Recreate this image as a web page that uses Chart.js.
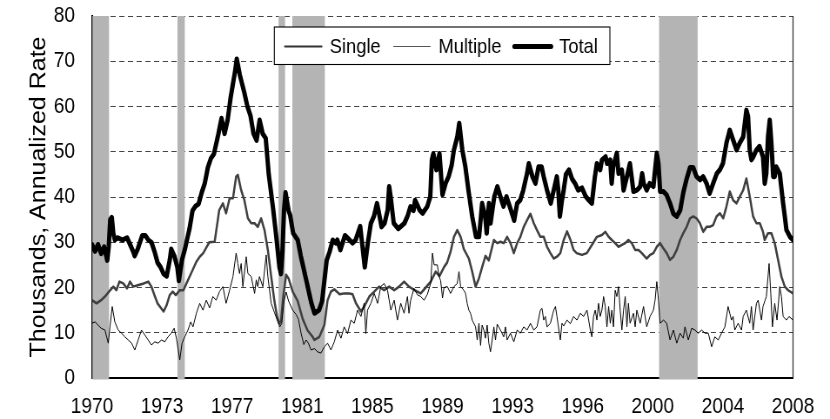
<!DOCTYPE html>
<html><head><meta charset="utf-8">
<script src="https://cdn.jsdelivr.net/npm/chart.js@4.4.1/dist/chart.umd.min.js"></script>
<style>
html,body{margin:0;padding:0;background:#fff;overflow:hidden;}
#wrap{width:954px;height:419px;transform:scaleX(0.87);transform-origin:0 0;}
canvas{display:block;}
</style></head>
<body><div id="wrap"><canvas id="c" width="954" height="419"></canvas></div>
<script>
// Month index 0 = Jan 1970, one label every 46 months
const xTickLabels = ['1970','1973','1977','1981','1985','1989','1993','1996','2000','2004','2008'];
const monthsPerLabel = 46;
const seriesNames = ['Single','Multiple','Total'];
const yTitle = 'Thousands, Annualized Rate';
// shaded periods (month index)
const recessionStart = [0.3, 56.1, 122.4, 131.5, 372.1];
const recessionEnd   = [11.2, 60.9, 126.7, 152.8, 397.4];

const total = [[0,29.5],[2,28],[4,29.5],[6,27.5],[8,29],[10,26],[11,29],[12,35],[13,35.5],[14,32],[15,30.5],[17,31],[20,30.5],[23,31],[25,29.5],[27,28],[28,27],[30,28.5],[33,31.5],[35,31.5],[37,30.5],[39,30],[41,28],[43,25.5],[45,24.5],[47,23],[49,22.5],[51,26],[52,28.5],[54,27],[56,24.5],[57,21.5],[59,26],[61,28.5],[62,30],[64,33],[66,37],[68,38],[70,38.5],[72,41],[74,43],[76,46.5],[78,48.5],[80,49.5],[83,54],[85,57.4],[87,54],[89,57],[91,62],[94,68],[95,70.5],[97,67],[100,63],[102,60],[104,58],[106,54],[108,52.5],[110,57],[112,54],[114,53],[116,45],[119,37],[121,31],[123,24.5],[124,23],[125,28],[126,37],[127,41],[129,37],[130,36],[132,32],[135,30.5],[137,27],[140,22.5],[144,16.5],[146,14.3],[149,15],[151,17],[152,20],[154,26],[156,28],[158,30.5],[160,29.8],[161,30.5],[163,28.3],[166,31.5],[169,30.5],[171,29.8],[173,30.5],[176,33.5],[177.5,29],[179,24.5],[181,29.8],[183,34.2],[185,35.7],[187,38.6],[188,37],[190,33.4],[192,34.2],[194,37.1],[195,42.3],[196,40],[198,34.2],[201,33],[205,34.2],[207,35.7],[209,37.9],[211,37],[212,39.3],[215,37.1],[217,36.4],[220,37.9],[222,40.1],[223,48.2],[224,49.6],[226,46],[228,49.6],[230,40.5],[232,43],[234,44.5],[236,47],[237.5,50.4],[239.7,53.3],[241,56.3],[243,50.4],[245,46.7],[247,41.5],[249.5,35.7],[252,31.2],[254,31.2],[256,38.6],[258,35.7],[259,32],[260.5,38.6],[261.5,34.2],[264,40.1],[266,42.3],[268,40.1],[270,37.9],[272,40.1],[275,37],[277,34.8],[279,38.6],[281,39.3],[283,41.5],[285.5,45.2],[286.6,47.4],[289,44.5],[291,43],[293,46.7],[295,46.7],[296.4,44.5],[298.6,41.5],[301,38.6],[303,41.5],[305,44.5],[306,41.5],[307,35.7],[308.4,39.3],[309.5,41.5],[311,45],[313,46],[315,44],[317,43],[319,41.5],[321.5,42],[324,40.1],[326,39.3],[328,38.6],[330,44.5],[331.3,47.4],[333.5,46],[334.6,48.2],[337,48.9],[338,47.4],[340,48.2],[341,43],[342,46.7],[344.4,49.7],[345.5,45.2],[347.7,46],[348.8,41.5],[351,44.5],[353,47.4],[355.3,41.2],[357.5,41.5],[359.7,42.3],[361,45.2],[362,43],[364,41.5],[366,43],[368.4,42.3],[370.6,49.7],[371.7,47.4],[372.8,41.2],[375,41.2],[377,40.5],[379.3,38.6],[381.5,36.3],[383.7,35.7],[386,37.1],[388,41],[390.2,44],[392.4,46.5],[394.5,46.5],[396.7,44.5],[399,43.8],[401,44.5],[403.3,43],[405.3,40.8],[407.6,43],[410,45.2],[412,46],[414,47.4],[416.3,51.9],[418.5,54.8],[420.7,52.6],[423,50.4],[425,51.9],[427.3,53.3],[429.4,59.2],[430.5,57.8],[431.6,50.4],[432.7,48.2],[434,48.9],[436,50.4],[438,51.2],[440.3,48.9],[441.4,43],[442.5,45.2],[443.6,53.3],[444.7,57],[445.8,52],[447,44.5],[448,44.5],[449,46.7],[451.3,45.2],[453.5,38.6],[454.6,35.7],[455.7,32.7],[458,31.2],[460,30.5]];

const single = [[0,17.2],[3,16.5],[6,17.2],[8.5,18],[12,19.4],[14,20.2],[16,19.4],[18,21.3],[20.5,20.9],[23,19.8],[25,21.3],[27,20.2],[30,20.5],[34,20.9],[37,21.3],[39,20.2],[41,18.3],[43,16.5],[47,14.7],[49,16.1],[51,18.3],[53,19.1],[55,18.3],[57.6,19.4],[60,19.4],[62,20.9],[65,23.1],[68.5,25.7],[70.7,26.8],[73,27.6],[75,28.8],[77,30],[80.5,30.1],[83.5,37.1],[85.9,38.6],[88,36.4],[90.3,39.7],[92.5,39.7],[94.6,44.5],[95.7,44.9],[97.9,41.5],[100,39.3],[102.3,35.3],[104.5,34.2],[106.7,34.2],[108.8,33.4],[111,35.3],[113.2,32.7],[115.4,28.3],[117.6,22.4],[119.7,17],[121.5,13.5],[123,12],[124,12.5],[125.5,18],[127.4,22.8],[129,22],[131.7,19.1],[135,17],[138.3,13],[141.5,10.5],[144.8,9.1],[146,8.4],[149.2,9.1],[152.5,11.7],[154.6,17.2],[156.8,19.1],[159,19.6],[162.5,18.5],[165.5,18.7],[168.8,18.7],[171,18.5],[173.2,16.5],[176.5,14.7],[178.6,15.8],[182,18],[185.2,19.1],[188.4,20.2],[191.7,19.4],[195,20.2],[198.3,19.4],[201.5,20.2],[204.8,21.3],[208,20.2],[211.3,19.5],[215.7,18.7],[219,20],[222.3,21.3],[225.5,23.5],[228,22.5],[231,24.5],[233,25.5],[235.3,27.9],[237.5,31.2],[239.7,32.7],[241.9,31.2],[244,28.5],[247.3,26.4],[249.5,23.5],[251.7,20.2],[253.9,22],[256,24.5],[258.2,27],[260.4,26],[261.5,27.5],[263.7,30.5],[265.9,29.8],[268,30.1],[270.2,29.8],[272.4,31.2],[274.6,29.8],[276.8,27.6],[279,29.8],[281.1,31.2],[283.3,33.4],[285.5,34.9],[287.7,36.3],[289.9,34.2],[292,32.7],[294.2,31.2],[296.4,31.2],[298.6,29],[300.8,27.6],[303,26.4],[305.1,26.8],[307.3,27.6],[309.5,30.5],[311.7,32.4],[314,30.5],[316,28.3],[318,27.6],[321.5,27.2],[324.7,27.6],[328,29.4],[331.3,31.2],[334.6,31.6],[336.8,32.3],[339,31.2],[341.1,30.5],[343.3,29.8],[345.5,29],[347.7,29.4],[349.9,29.8],[352,30.5],[354.2,29.8],[356.4,28.3],[358.6,28.3],[360.8,27.6],[364,26.4],[366.2,27.2],[368.4,27.6],[370.6,29],[372.8,29.8],[375,28.6],[377.1,27.6],[379.3,26.1],[381.5,26.8],[383.7,28.3],[385.9,30.5],[388,32],[390.2,33.4],[392.4,35.3],[394.5,35.7],[396.7,35.3],[398.9,34.2],[401.1,32.3],[403.3,33.4],[405.3,33.4],[407.6,33.8],[409.8,35.7],[412,36.4],[414.2,35.3],[416.3,37.9],[418.5,41.2],[420.7,39.3],[422.9,38.6],[425.1,40.1],[427.3,41.5],[429.4,44.1],[431.6,40.1],[433.8,35.7],[436,34.2],[438.2,34.2],[440.3,32.3],[441.4,30.5],[443.6,32],[445.8,32],[448,29.8],[450.2,26.1],[452.4,22.4],[454.6,20.2],[456.8,19.4],[460,18.7]];

const multiple = [[0,12.1],[2,12.4],[4,11.7],[6,11],[8.5,10.6],[10.7,7.7],[11.8,11.3],[13.3,15.8],[15,12.4],[17.2,10.6],[19.4,9.9],[21.6,9.1],[23.8,8.4],[26,7.7],[28.1,6.2],[30.3,8.4],[32.5,10.6],[34.7,9.5],[36.9,8.4],[39,7.3],[41.2,8],[43.4,7.7],[45.6,8.4],[47.8,8],[49.9,9.1],[52.1,9.9],[53.9,11],[55.4,8.8],[57.6,4],[59.1,7.7],[60.9,9.1],[63,10.6],[64.8,12.4],[66.3,11.3],[68.5,14.3],[70.7,16.5],[72.8,15],[75,17.2],[77.2,15.5],[79.3,18],[81.5,17.2],[83.7,19.1],[85.9,20.2],[88,16.5],[90.3,19.4],[92.5,22.4],[94.6,27.6],[95.7,25.3],[96.8,23.1],[97.9,25.3],[99,20.2],[101.2,26.8],[102.3,23.1],[104.5,22.4],[106.7,18.7],[107.8,21.7],[108.8,20.2],[109.9,22.4],[112.1,20.2],[114.3,27.2],[115.4,22.4],[117.6,16.5],[119.7,14.5],[121.9,12.5],[123.2,11.3],[124.5,12],[126,17],[127.4,19],[129,17],[131.7,15],[134,14],[135.5,13],[137.2,9.9],[139,7.4],[140.5,8.4],[142,7.7],[143.7,6.2],[146,6.5],[148,5.8],[150.2,5.5],[152.5,6.9],[154.6,7.7],[156.8,6.2],[159,8],[161.2,10.6],[163.4,8.8],[165.5,11.3],[167.7,9.8],[169.9,12.8],[172.1,12.1],[174.3,15],[176.5,13.6],[178.6,16.5],[179.7,9.8],[180.8,15],[183,16.5],[185.2,18.7],[187.4,16.5],[189.5,20.2],[191.7,20.9],[193.9,19.4],[196.1,15],[198.3,17.2],[200.4,12.8],[202.6,16.5],[204.8,14.3],[207,18],[208,14.3],[209.1,17.2],[211.3,19.8],[213.5,18.4],[215.7,18],[217.9,17.2],[220.1,18.5],[222.3,21],[223.4,27.6],[224.5,25],[226.6,25],[227.7,22.5],[228.8,21.5],[230,17.7],[231,20],[233.2,20.2],[235.3,18.7],[237.5,20.2],[239.7,20.9],[240.8,23.5],[241.9,20.2],[244,19.4],[245.1,18.7],[246.2,16.5],[247.3,15],[248.4,14.3],[249.5,12.8],[251.7,11.3],[252.8,8.4],[253.9,12.1],[255,7.2],[256,11.7],[257.1,10.6],[258.2,8.8],[259.3,11.7],[260.4,7.7],[261.5,5.8],[262.6,8.4],[263.7,11.3],[264.8,8.4],[265.9,11.9],[268,10.6],[270.2,9.1],[271.3,11.3],[272.4,8.4],[274.6,9.9],[276.8,8],[279,10.6],[281.1,9.9],[283.3,11.3],[285.5,10.6],[287.7,12.1],[289.9,10.6],[292,11.3],[294.2,15],[295.3,15.4],[296.4,12.8],[297.5,13.6],[298.6,11.3],[300.8,12.1],[303,15],[304.1,15.8],[305.1,13.6],[307.3,8.4],[308.4,12.1],[309.5,11.5],[311.7,12.8],[313.9,12],[316,13.6],[318.2,12.8],[320.4,14.3],[322.6,13.6],[324.8,15],[327,10.6],[328,9.1],[329.1,13.6],[330.2,15],[331.3,12.8],[332.4,16.5],[333.5,13.6],[334.6,15],[335.7,18],[336.8,15.8],[337.9,11.3],[339,15.8],[340.1,12.1],[341.1,15],[342.2,11.3],[343.3,19.4],[344.4,18],[345.5,20.2],[346.6,15],[347.7,10.6],[348.8,15],[349.9,18],[351,11.3],[352,16.5],[353.1,12.1],[355.3,14.3],[356.4,11.3],[357.5,15],[359.7,12.1],[361.9,15.8],[364,11.3],[366.2,13.6],[368.4,15],[369.5,17.2],[370.6,21.3],[371.7,17.2],[372.8,12.1],[375,12.8],[377.1,12.1],[379.3,8.4],[381.5,10.6],[383.7,7.7],[385.9,9.9],[388,8.8],[389.1,11.3],[391.3,8.4],[393.5,11],[395.6,10.6],[397.8,9.9],[400,10.6],[402.2,9.9],[404.4,9.9],[406.6,6.9],[408.7,9.1],[410.9,8.4],[413.1,9.9],[415.3,11.3],[417.4,15.8],[418.5,14.3],[419.6,12.8],[420.7,13.6],[421.8,10.6],[424,12.1],[426.2,10.6],[427.3,13.6],[429.4,15],[431.6,12.1],[432.7,15.8],[433.8,10.6],[436,16.5],[437.1,17.2],[439.3,12.8],[440.3,15.8],[442.5,18],[444.3,25.3],[445.4,18.7],[446.5,11.3],[448,16.5],[449.5,12.8],[451.3,20.2],[452.4,18],[453.5,13.6],[455.7,12.8],[457.4,13.6],[460,12.8]];

const FONT = "'Liberation Sans', Arial, Helvetica, sans-serif";
Chart.defaults.font.family = FONT;
Chart.defaults.color = '#000';

const toXY = a => a.map(p => ({x: p[0], y: p[1]}));

const shadePlugin = {
  id: 'shade',
  beforeDatasetsDraw(chart) {
    const {ctx, chartArea: a, scales: {x}} = chart;
    ctx.save();
    ctx.fillStyle = '#b4b4b4';
    for (let i = 0; i < recessionStart.length; i++) {
      const x1 = x.getPixelForValue(recessionStart[i]);
      const x2 = x.getPixelForValue(recessionEnd[i]);
      ctx.fillRect(x1, a.top, x2 - x1, a.bottom - a.top + 1.5);
    }
    ctx.strokeStyle = '#222';
    ctx.lineWidth = 1.2;
    ctx.beginPath();
    ctx.moveTo(a.right, a.top);
    ctx.lineTo(a.right, a.bottom);
    ctx.stroke();
    ctx.restore();
  }
};

const legendPlugin = {
  id: 'boxLegend',
  afterDraw(chart) {
    const ctx = chart.ctx;
    const styles = [
      {color: '#333', width: 2.2},
      {color: '#555', width: 1},
      {color: '#000', width: 5}
    ];
    const top = 27, h = 37.5, left = 315.3, right = 701;
    const cy = 46.5;
    ctx.save();
    ctx.fillStyle = '#fff';
    ctx.fillRect(left, top, right - left, h);
    ctx.strokeStyle = '#000';
    ctx.lineWidth = 1.1;
    ctx.strokeRect(left, top, right - left, h);
    ctx.font = '21px ' + FONT;
    ctx.textBaseline = 'middle';
    ctx.textAlign = 'left';
    ctx.fillStyle = '#000';
    let xx = 327.6;
    seriesNames.forEach((name, i) => {
      ctx.strokeStyle = styles[i].color;
      ctx.lineWidth = styles[i].width;
      ctx.lineCap = 'round';
      ctx.beginPath();
      ctx.moveTo(xx, cy);
      ctx.lineTo(xx + 42, cy);
      ctx.stroke();
      xx += 51.5;
      ctx.fillText(name, xx, cy + 1);
      xx += ctx.measureText(name).width + 15;
    });
    ctx.restore();
  }
};

new Chart(document.getElementById('c'), {
  type: 'line',
  data: {
    datasets: [
      {label: seriesNames[2], data: toXY(total), borderColor: '#000', borderWidth: 5, order: 1},
      {label: seriesNames[1], data: toXY(multiple), borderColor: '#000', borderWidth: 1, order: 2},
      {label: seriesNames[0], data: toXY(single), borderColor: '#404040', borderWidth: 2.5, order: 3}
    ]
  },
  options: {
    responsive: false,
    animation: false,
    devicePixelRatio: 1,
    layout: {padding: {top: 16, right: 42.5, bottom: 0, left: 0}},
    elements: {
      point: {radius: 0},
      line: {tension: 0, borderJoinStyle: 'round', borderCapStyle: 'round', fill: false}
    },
    plugins: {legend: {display: false}, tooltip: {enabled: false}},
    scales: {
      x: {
        type: 'linear',
        min: 0,
        max: (xTickLabels.length - 1) * monthsPerLabel,
        afterBuildTicks: s => { s.ticks = xTickLabels.map((l, i) => ({value: i * monthsPerLabel})); },
        ticks: {
          callback: (v, i) => xTickLabels[i],
          font: {size: 22},
          color: '#000',
          padding: 16,
          maxRotation: 0,
          autoSkip: false
        },
        grid: {display: true, drawOnChartArea: false, drawTicks: false},
        border: {display: true, color: '#000', width: 2},
        afterFit: s => { s.height = 41; s.paddingLeft = 0; s.paddingRight = 0; }
      },
      y: {
        min: 0,
        max: 80,
        ticks: {stepSize: 10, font: {size: 22}, color: '#000', padding: 19.5},
        grid: {color: '#444', lineWidth: 1, drawTicks: false},
        border: {display: true, color: '#000', width: 2, dash: [6, 4]},
        title: {display: true, text: yTitle, font: {size: 25}, color: '#000', padding: {top: 30, bottom: 0}},
        afterFit: s => { s.width = 105.7; s.paddingTop = 0; s.paddingBottom = 0; }
      }
    }
  },
  plugins: [shadePlugin, legendPlugin]
});
</script>
</body></html>
